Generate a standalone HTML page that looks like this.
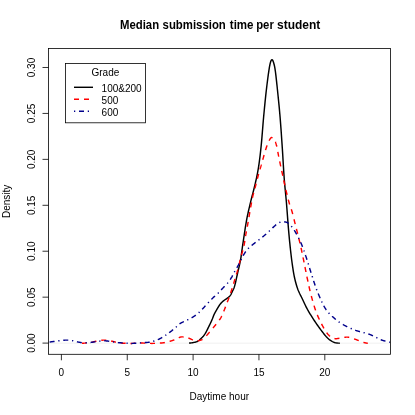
<!DOCTYPE html>
<html><head><meta charset="utf-8"><title>Median submission time per student</title>
<style>
html,body{margin:0;padding:0;background:#fff;}
body{width:415px;height:415px;overflow:hidden;font-family:"Liberation Sans",sans-serif;}
svg{display:block;will-change:transform;}
</style></head><body>
<svg width="415" height="415" viewBox="0 0 415 415">
<rect x="0" y="0" width="415" height="415" fill="#fff"/>
<g font-family="Liberation Sans, sans-serif" fill="#000">
<text x="120.00" y="28.8" font-size="12" font-weight="bold" textLength="39.10" lengthAdjust="spacingAndGlyphs">Median</text>
<text x="162.60" y="28.8" font-size="12" font-weight="bold" textLength="63.20" lengthAdjust="spacingAndGlyphs">submission</text>
<text x="229.80" y="28.8" font-size="12" font-weight="bold" textLength="23.75" lengthAdjust="spacingAndGlyphs">time</text>
<text x="256.20" y="28.8" font-size="12" font-weight="bold" textLength="17.60" lengthAdjust="spacingAndGlyphs">per</text>
<text x="277.00" y="28.8" font-size="12" font-weight="bold" textLength="43.30" lengthAdjust="spacingAndGlyphs">student</text>
<text x="219.3" y="399.8" font-size="10" text-anchor="middle">Daytime hour</text>
<text transform="translate(10.2 201.3) rotate(-90)" font-size="10" text-anchor="middle">Density</text>
<text x="61.40" y="376" font-size="10" text-anchor="middle">0</text>
<text x="127.25" y="376" font-size="10" text-anchor="middle">5</text>
<text x="193.10" y="376" font-size="10" text-anchor="middle">10</text>
<text x="258.95" y="376" font-size="10" text-anchor="middle">15</text>
<text x="324.80" y="376" font-size="10" text-anchor="middle">20</text>
<text transform="translate(34.7 343.10) rotate(-90)" font-size="10" text-anchor="middle">0.00</text>
<text transform="translate(34.7 297.17) rotate(-90)" font-size="10" text-anchor="middle">0.05</text>
<text transform="translate(34.7 251.23) rotate(-90)" font-size="10" text-anchor="middle">0.10</text>
<text transform="translate(34.7 205.30) rotate(-90)" font-size="10" text-anchor="middle">0.15</text>
<text transform="translate(34.7 159.36) rotate(-90)" font-size="10" text-anchor="middle">0.20</text>
<text transform="translate(34.7 113.43) rotate(-90)" font-size="10" text-anchor="middle">0.25</text>
<text transform="translate(34.7 67.49) rotate(-90)" font-size="10" text-anchor="middle">0.30</text>
</g>
<line x1="48.50" y1="343.20" x2="390.50" y2="343.20" stroke="#bebebe" stroke-width="0.22"/>
<clipPath id="c"><rect x="48.50" y="48.50" width="342.00" height="305.80"/></clipPath>
<g clip-path="url(#c)" fill="none" stroke-linecap="butt" stroke-linejoin="round" stroke-width="1.45">
<path d="M189.00 343.10L189.31 343.07L189.72 343.02L190.20 342.98L190.74 342.92L191.32 342.85L191.90 342.78L192.47 342.69L193.00 342.60L193.51 342.50L194.03 342.41L194.55 342.31L195.07 342.19L195.59 342.06L196.10 341.91L196.61 341.72L197.10 341.50L197.58 341.24L198.05 340.96L198.50 340.65L198.96 340.31L199.41 339.95L199.86 339.56L200.33 339.14L200.80 338.70L201.29 338.24L201.78 337.76L202.29 337.26L202.79 336.72L203.30 336.16L203.81 335.55L204.31 334.90L204.80 334.20L205.29 333.43L205.77 332.59L206.26 331.70L206.74 330.77L207.21 329.82L207.68 328.86L208.15 327.92L208.60 327.00L209.05 326.09L209.51 325.16L209.96 324.22L210.41 323.28L210.84 322.36L211.25 321.47L211.64 320.61L212.00 319.80L212.32 319.05L212.60 318.34L212.85 317.67L213.08 317.03L213.31 316.40L213.55 315.78L213.81 315.15L214.10 314.50L214.42 313.83L214.77 313.16L215.12 312.49L215.49 311.82L215.87 311.15L216.25 310.49L216.63 309.84L217.00 309.20L217.37 308.57L217.74 307.93L218.12 307.29L218.49 306.67L218.87 306.06L219.25 305.48L219.62 304.92L220.00 304.40L220.37 303.92L220.74 303.47L221.11 303.05L221.47 302.65L221.85 302.27L222.22 301.91L222.61 301.55L223.00 301.20L223.40 300.87L223.82 300.56L224.24 300.27L224.66 299.99L225.09 299.71L225.53 299.42L225.96 299.12L226.40 298.80L226.85 298.46L227.32 298.12L227.79 297.78L228.27 297.42L228.74 297.05L229.19 296.66L229.61 296.24L230.00 295.80L230.35 295.33L230.67 294.84L230.96 294.33L231.23 293.80L231.49 293.25L231.76 292.68L232.02 292.10L232.30 291.50L232.58 290.93L232.86 290.39L233.14 289.87L233.41 289.31L233.69 288.69L233.98 287.98L234.28 287.12L234.60 286.10L234.93 284.88L235.28 283.50L235.64 281.98L236.01 280.36L236.38 278.67L236.75 276.96L237.13 275.26L237.50 273.60L237.88 271.95L238.27 270.25L238.67 268.53L239.07 266.79L239.47 265.07L239.84 263.36L240.19 261.70L240.50 260.10L240.77 258.57L241.01 257.11L241.22 255.69L241.41 254.30L241.60 252.91L241.78 251.49L241.98 250.03L242.20 248.50L242.43 246.92L242.67 245.31L242.91 243.66L243.15 241.99L243.40 240.29L243.66 238.56L243.92 236.80L244.20 235.00L244.48 233.17L244.76 231.29L245.05 229.39L245.34 227.45L245.65 225.49L245.98 223.51L246.33 221.51L246.70 219.50L247.10 217.47L247.52 215.43L247.97 213.36L248.43 211.27L248.91 209.17L249.40 207.05L249.90 204.93L250.40 202.80L250.92 200.65L251.47 198.49L252.04 196.30L252.61 194.11L253.19 191.91L253.75 189.72L254.29 187.55L254.80 185.40L255.29 183.31L255.75 181.28L256.21 179.29L256.65 177.29L257.08 175.26L257.50 173.16L257.90 170.95L258.30 168.60L258.69 166.14L259.06 163.61L259.41 161.01L259.76 158.33L260.10 155.54L260.44 152.65L260.77 149.64L261.10 146.50L261.43 143.15L261.75 139.58L262.06 135.85L262.38 132.02L262.68 128.19L262.99 124.41L263.29 120.75L263.60 117.30L263.90 114.01L264.21 110.80L264.51 107.68L264.81 104.63L265.10 101.66L265.40 98.77L265.70 95.95L266.00 93.20L266.30 90.50L266.61 87.84L266.92 85.24L267.23 82.72L267.54 80.31L267.84 78.02L268.12 75.88L268.40 73.90L268.66 72.08L268.91 70.41L269.16 68.86L269.39 67.45L269.62 66.16L269.85 64.99L270.08 63.94L270.30 63.00L270.52 62.18L270.74 61.49L270.95 60.92L271.16 60.46L271.37 60.12L271.58 59.88L271.79 59.74L272.00 59.70L272.21 59.76L272.43 59.94L272.64 60.23L272.85 60.61L273.06 61.09L273.27 61.65L273.49 62.29L273.70 63.00L273.91 63.72L274.11 64.45L274.31 65.23L274.51 66.10L274.71 67.12L274.93 68.33L275.15 69.77L275.40 71.50L275.67 73.56L275.95 75.94L276.25 78.57L276.56 81.38L276.88 84.31L277.19 87.30L277.50 90.28L277.80 93.20L278.09 96.05L278.38 98.90L278.67 101.77L278.96 104.69L279.25 107.67L279.53 110.75L279.82 113.96L280.10 117.30L280.38 120.83L280.66 124.52L280.95 128.35L281.23 132.27L281.50 136.23L281.77 140.21L282.04 144.14L282.30 148.00L282.55 151.84L282.79 155.73L283.02 159.63L283.25 163.51L283.48 167.34L283.71 171.09L283.95 174.72L284.20 178.20L284.46 181.49L284.73 184.62L285.01 187.61L285.29 190.53L285.58 193.41L285.86 196.31L286.13 199.25L286.40 202.30L286.66 205.49L286.92 208.79L287.18 212.15L287.43 215.53L287.68 218.85L287.93 222.07L288.17 225.14L288.40 228.00L288.62 230.63L288.84 233.09L289.05 235.40L289.25 237.60L289.45 239.73L289.66 241.84L289.88 243.95L290.10 246.10L290.33 248.29L290.57 250.47L290.81 252.63L291.06 254.77L291.31 256.89L291.56 258.97L291.83 261.01L292.10 263.00L292.37 264.94L292.65 266.85L292.93 268.72L293.21 270.56L293.51 272.35L293.82 274.11L294.15 275.82L294.50 277.50L294.87 279.14L295.25 280.73L295.65 282.28L296.06 283.80L296.49 285.28L296.94 286.72L297.41 288.13L297.90 289.50L298.41 290.82L298.96 292.07L299.52 293.28L300.10 294.46L300.69 295.62L301.29 296.79L301.90 297.97L302.50 299.20L303.09 300.45L303.67 301.70L304.25 302.97L304.84 304.24L305.45 305.52L306.09 306.83L306.77 308.15L307.50 309.50L308.28 310.88L309.11 312.31L309.98 313.76L310.88 315.22L311.80 316.69L312.73 318.15L313.67 319.59L314.60 321.00L315.54 322.41L316.52 323.83L317.51 325.26L318.50 326.67L319.49 328.04L320.46 329.37L321.40 330.63L322.30 331.80L323.16 332.90L323.98 333.94L324.78 334.93L325.56 335.86L326.32 336.73L327.08 337.54L327.84 338.30L328.60 339.00L329.37 339.63L330.14 340.20L330.91 340.71L331.67 341.16L332.42 341.56L333.16 341.91L333.89 342.22L334.60 342.50L335.32 342.73L336.08 342.89L336.84 343.00L337.58 343.07L338.27 343.11L338.88 343.14L339.40 343.17L339.80 343.20" stroke="#000"/>
<path d="M81.90 343.30L82.08 343.28L82.29 343.27L82.53 343.25L82.79 343.23L83.08 343.22L83.38 343.20L83.70 343.17L84.04 343.15L84.39 343.13L84.76 343.10L85.13 343.08L85.51 343.05L85.90 343.02L86.29 342.99L86.69 342.96L86.71 342.96M91.56 342.31L91.83 342.25L92.12 342.18L92.41 342.11L92.71 342.04L92.99 341.96L93.28 341.89L93.57 341.81L93.85 341.74L94.14 341.66L94.42 341.59L94.71 341.51L94.99 341.44L95.28 341.37L95.56 341.30L95.85 341.24L96.13 341.17L96.42 341.11M101.30 340.28L101.38 340.27L101.67 340.24L101.96 340.21L102.25 340.18L102.54 340.16L102.83 340.14L103.12 340.12L103.42 340.11L103.71 340.10L104.00 340.10L104.29 340.10L104.58 340.11L104.88 340.12L105.17 340.14L105.46 340.16L105.75 340.18L106.04 340.21L106.29 340.23M111.07 341.01L111.29 341.06L111.59 341.12L111.89 341.18L112.19 341.25L112.49 341.32L112.80 341.40L113.10 341.47L113.41 341.55L113.71 341.63L114.02 341.71L114.32 341.79L114.62 341.88L114.93 341.96L115.23 342.04L115.52 342.12L115.81 342.19L115.92 342.22M120.64 343.07L120.73 343.07L120.92 343.09L121.11 343.10L121.31 343.11L121.52 343.12L121.73 343.14L121.96 343.15L122.20 343.16L122.45 343.17L122.72 343.19L123.00 343.20L123.30 343.21L123.61 343.23L123.94 343.24L124.28 343.26L124.63 343.27L124.99 343.29L125.36 343.30L125.63 343.31M130.45 343.40L130.51 343.40L130.90 343.41L131.27 343.41L131.64 343.40L132.00 343.40L132.35 343.39L132.69 343.39L133.02 343.37L133.35 343.36L133.67 343.34L133.99 343.32L134.30 343.30L134.61 343.28L134.92 343.26L135.22 343.24L135.45 343.22M140.25 343.00L140.42 343.00L140.85 343.01L141.29 343.02L141.75 343.03L142.22 343.04L142.69 343.06L143.18 343.08L143.67 343.10L144.17 343.13L144.68 343.15L145.19 343.18L145.25 343.18M150.01 343.38L150.22 343.38L150.69 343.39L151.15 343.40L151.60 343.40L152.04 343.40L152.49 343.40L152.93 343.39L153.37 343.38L153.81 343.37L154.25 343.36L154.69 343.35L155.01 343.34M159.89 343.09L159.90 343.09L160.24 343.07L160.57 343.05L160.89 343.02L161.20 343.00L161.49 342.98L161.76 342.96L162.02 342.93L162.27 342.91L162.50 342.89L162.71 342.87L162.92 342.84L163.12 342.82L163.31 342.80L163.49 342.78L163.67 342.75L163.84 342.73L164.01 342.70L164.17 342.67L164.34 342.64L164.50 342.61L164.67 342.58L164.84 342.55L164.86 342.54M169.61 341.36L169.70 341.33L169.95 341.26L170.20 341.19L170.44 341.11L170.68 341.04L170.91 340.97L171.14 340.90L171.37 340.83L171.59 340.77L171.80 340.70L172.00 340.64L172.20 340.57L172.39 340.51L172.58 340.45L172.76 340.39L172.93 340.34L173.11 340.28L173.27 340.22L173.44 340.17L173.60 340.11L173.76 340.05L173.93 339.99L174.09 339.94L174.25 339.88L174.37 339.83M178.76 337.77L178.76 337.77L178.99 337.66L179.22 337.55L179.45 337.44L179.69 337.35L179.92 337.25L180.16 337.17L180.41 337.10L180.65 337.03L180.90 336.98L181.15 336.93L181.40 336.90L181.66 336.88L181.92 336.87L182.18 336.86L182.45 336.87L182.73 336.88L183.00 336.90L183.28 336.92L183.57 336.96L183.60 336.96M188.31 338.03L188.48 338.08L188.77 338.18L189.05 338.28L189.34 338.39L189.63 338.51L189.92 338.63L190.22 338.76L190.51 338.89L190.80 339.03L191.09 339.16L191.38 339.30L191.67 339.44L191.96 339.57L192.24 339.71L192.52 339.84L192.80 339.96L192.90 340.01M197.74 340.84L197.88 340.83L198.08 340.80L198.27 340.77L198.46 340.73L198.65 340.69L198.84 340.65L199.03 340.61L199.22 340.56L199.41 340.51L199.61 340.46L199.80 340.40L199.99 340.35L200.17 340.29L200.35 340.24L200.52 340.19L200.69 340.15L200.86 340.10L201.02 340.04L201.18 339.99L201.34 339.93L201.50 339.87L201.66 339.80L201.83 339.73L201.99 339.64L202.16 339.55L202.33 339.45L202.49 339.36M206.29 335.85L206.52 335.60L206.85 335.24L207.17 334.87L207.51 334.49L207.84 334.10L208.18 333.71L208.52 333.31L208.87 332.91L209.21 332.50L209.55 332.09L209.57 332.08M212.96 328.04L213.23 327.72L213.58 327.31L213.93 326.90L214.28 326.48L214.63 326.06L214.98 325.64L215.33 325.22L215.67 324.80L216.02 324.37L216.16 324.20M219.27 320.17L219.36 320.05L219.60 319.70L219.82 319.37L220.03 319.05L220.23 318.74L220.42 318.44L220.59 318.15L220.75 317.86L220.91 317.59L221.05 317.32L221.19 317.05L221.32 316.79L221.45 316.54L221.57 316.28L221.69 316.03L221.77 315.85M223.70 311.39L223.83 311.08L223.96 310.75L224.10 310.42L224.24 310.08L224.37 309.75L224.51 309.41L224.64 309.06L224.78 308.71L224.92 308.36L225.06 308.00L225.20 307.64L225.34 307.27L225.49 306.89L225.54 306.74M227.27 302.21L227.42 301.82L227.60 301.35L227.78 300.87L227.96 300.38L228.15 299.89L228.33 299.40L228.52 298.90L228.70 298.40L228.89 297.89L229.02 297.53M230.62 293.04L230.70 292.80L230.87 292.29L231.04 291.79L231.21 291.28L231.38 290.76L231.54 290.25L231.71 289.73L231.87 289.21L232.04 288.69L232.17 288.28M233.57 283.71L233.65 283.44L233.81 282.92L233.97 282.39L234.12 281.87L234.28 281.34L234.44 280.82L234.60 280.30L234.76 279.78L234.92 279.25L235.02 278.93M236.39 274.42L236.53 273.94L236.69 273.41L236.85 272.89L237.00 272.36L237.16 271.84L237.31 271.32L237.46 270.81L237.60 270.29L237.75 269.78L237.80 269.62M239.06 264.80L239.13 264.53L239.23 264.08L239.34 263.63L239.44 263.19L239.54 262.75L239.64 262.31L239.74 261.87L239.84 261.43L239.94 260.99L240.04 260.55L240.15 260.11L240.19 259.93M241.39 255.17L241.52 254.72L241.65 254.26L241.78 253.80L241.91 253.34L242.05 252.89L242.18 252.43L242.32 251.97L242.45 251.51L242.58 251.05L242.71 250.59L242.78 250.36M243.95 245.75L244.00 245.54L244.09 245.09L244.18 244.63L244.27 244.17L244.35 243.71L244.43 243.25L244.51 242.79L244.59 242.33L244.66 241.87L244.73 241.41L244.80 240.95L244.82 240.83M245.51 236.23L245.55 235.98L245.62 235.54L245.70 235.10L245.78 234.66L245.86 234.23L245.93 233.80L246.01 233.37L246.09 232.95L246.17 232.53L246.25 232.10L246.33 231.69L246.40 231.31M247.29 226.70L247.29 226.69L247.37 226.27L247.44 225.85L247.52 225.43L247.60 225.00L247.68 224.57L247.75 224.14L247.83 223.71L247.91 223.27L247.98 222.83L248.06 222.39L248.14 221.95L248.17 221.78M248.98 217.03L249.04 216.69L249.11 216.27L249.19 215.84L249.26 215.43L249.33 215.01L249.40 214.60L249.47 214.19L249.54 213.79L249.61 213.39L249.68 213.00L249.74 212.61L249.81 212.22L249.83 212.10M250.64 207.38L250.66 207.30L250.72 206.93L250.79 206.55L250.86 206.17L250.93 205.78L251.00 205.40L251.07 205.01L251.14 204.63L251.21 204.24L251.28 203.85L251.35 203.45L251.42 203.06L251.50 202.67L251.53 202.46M252.44 197.75L252.47 197.60L252.55 197.22L252.63 196.84L252.72 196.47L252.80 196.10L252.89 195.73L252.98 195.36L253.07 195.00L253.16 194.63L253.26 194.27L253.35 193.91L253.45 193.55L253.55 193.19L253.63 192.89M254.91 188.41L254.92 188.36L255.01 188.03L255.10 187.70L255.18 187.38L255.27 187.06L255.35 186.75L255.42 186.45L255.50 186.14L255.57 185.85L255.65 185.55L255.72 185.26L255.79 184.97L255.86 184.68L255.93 184.39L256.00 184.11L256.07 183.82L256.13 183.56M257.37 178.72L257.45 178.42L257.55 178.06L257.64 177.69L257.74 177.32L257.84 176.95L257.94 176.58L258.04 176.21L258.14 175.84L258.24 175.47L258.34 175.11L258.44 174.74L258.54 174.38L258.64 174.02L258.68 173.90M259.96 169.33L260.03 169.08L260.11 168.81L260.19 168.54L260.27 168.27L260.34 168.00L260.42 167.74L260.50 167.48L260.57 167.22L260.65 166.96L260.72 166.70L260.80 166.44L260.87 166.18L260.95 165.92L261.02 165.66L261.10 165.40L261.17 165.14L261.25 164.89L261.32 164.65L261.35 164.53M262.72 159.77L262.80 159.50L262.89 159.18L262.99 158.85L263.08 158.51L263.18 158.16L263.28 157.80L263.39 157.44L263.49 157.06L263.60 156.68L263.71 156.29L263.82 155.90L263.93 155.50L264.04 155.11L264.09 154.96M265.51 150.15L265.62 149.81L265.73 149.46L265.84 149.12L265.95 148.77L266.05 148.43L266.16 148.08L266.27 147.74L266.38 147.41L266.49 147.07L266.60 146.74L266.71 146.41L266.82 146.09L266.93 145.77L267.04 145.45L267.06 145.39M269.11 140.55L269.16 140.47L269.26 140.28L269.37 140.10L269.47 139.92L269.57 139.75L269.67 139.59L269.76 139.43L269.86 139.28L269.96 139.13L270.05 138.99L270.14 138.86L270.23 138.73L270.32 138.61L270.40 138.50L270.48 138.39L270.56 138.29L270.63 138.20L270.70 138.11L270.77 138.03L270.83 137.96L270.90 137.89L270.96 137.83L271.01 137.78L271.07 137.73L271.13 137.69L271.19 137.65L271.24 137.62L271.30 137.59L271.36 137.57L271.42 137.56L271.48 137.54L271.55 137.54L271.62 137.54L271.68 137.54L271.76 137.55L271.83 137.56L271.91 137.58L272.00 137.60L272.09 137.62L272.18 137.65L272.28 137.68L272.38 137.72L272.49 137.76L272.54 137.78M275.50 141.82L275.53 141.90L275.61 142.15L275.68 142.41L275.76 142.67L275.83 142.93L275.91 143.20L275.98 143.48L276.06 143.76L276.13 144.04L276.20 144.33L276.28 144.62L276.35 144.91L276.43 145.20L276.50 145.50L276.57 145.80L276.65 146.11L276.72 146.43L276.77 146.65M277.79 151.79L277.85 152.11L277.92 152.47L277.99 152.83L278.06 153.19L278.13 153.55L278.20 153.90L278.27 154.25L278.34 154.59L278.41 154.94L278.48 155.28L278.55 155.62L278.61 155.96L278.68 156.30L278.75 156.63L278.76 156.69M279.73 161.48L279.74 161.54L279.82 161.92L279.90 162.30L279.98 162.69L280.06 163.07L280.14 163.45L280.22 163.84L280.31 164.22L280.39 164.60L280.47 164.99L280.56 165.38L280.64 165.77L280.73 166.16L280.77 166.37M281.75 170.88L281.77 170.97L281.88 171.47L281.99 171.98L282.10 172.50L282.22 173.04L282.34 173.60L282.46 174.17L282.58 174.76L282.71 175.37L282.80 175.77M283.76 180.34L283.80 180.55L283.95 181.22L284.09 181.90L284.24 182.57L284.38 183.24L284.53 183.91L284.67 184.58L284.82 185.23M285.90 189.95L285.99 190.32L286.14 190.96L286.29 191.61L286.45 192.25L286.60 192.89L286.75 193.53L286.91 194.17L287.06 194.80L287.07 194.81M288.29 199.65L288.43 200.20L288.58 200.75L288.72 201.28L288.86 201.80L289.00 202.30L289.14 202.78L289.27 203.24L289.40 203.68L289.53 204.10L289.65 204.46M291.31 209.27L291.37 209.43L291.49 209.81L291.61 210.20L291.74 210.62L291.87 211.05L292.00 211.50L292.13 211.96L292.26 212.43L292.39 212.90L292.52 213.38L292.64 213.85L292.70 214.07M293.99 219.21L294.08 219.57L294.22 220.14L294.36 220.72L294.51 221.32L294.66 221.93L294.81 222.55L294.97 223.19L295.13 223.84L295.19 224.07M296.42 228.92L296.42 228.92L296.63 229.72L296.83 230.53L297.04 231.35L297.25 232.18L297.47 233.01L297.66 233.76M298.84 238.47L298.95 238.92L299.15 239.74L299.35 240.56L299.55 241.37L299.74 242.16L299.92 242.94L300.01 243.33M301.04 247.84L301.08 248.06L301.24 248.77L301.39 249.47L301.54 250.16L301.69 250.85L301.83 251.54L301.97 252.23L302.08 252.73M303.05 257.43L303.11 257.75L303.26 258.46L303.40 259.16L303.55 259.88L303.70 260.60L303.85 261.33L304.00 262.06L304.05 262.33M304.98 266.99L305.05 267.33L305.20 268.09L305.35 268.85L305.50 269.61L305.65 270.37L305.80 271.13L305.95 271.89L305.95 271.90M306.93 276.72L307.00 277.08L307.15 277.79L307.30 278.50L307.45 279.20L307.60 279.89L307.74 280.58L307.88 281.25L307.96 281.61M308.95 286.25L309.01 286.51L309.16 287.16L309.30 287.81L309.45 288.45L309.60 289.10L309.75 289.75L309.90 290.40L310.06 291.06L310.07 291.12M311.33 296.01L311.45 296.49L311.64 297.20L311.83 297.92L312.03 298.64L312.23 299.36L312.43 300.09L312.63 300.82L312.63 300.84M314.03 305.63L314.11 305.90L314.33 306.60L314.55 307.30L314.77 308.00L314.99 308.68L315.22 309.35L315.44 310.01L315.57 310.38M317.32 314.94L317.33 314.96L317.58 315.55L317.83 316.14L318.08 316.71L318.33 317.28L318.58 317.85L318.84 318.41L319.09 318.96L319.35 319.50L319.35 319.51M321.54 323.91L321.65 324.12L321.90 324.60L322.15 325.08L322.40 325.55L322.65 326.01L322.90 326.48L323.15 326.93L323.40 327.39L323.65 327.83L323.90 328.27L323.92 328.31M326.67 332.64L326.91 332.96L327.15 333.28L327.40 333.60L327.65 333.91L327.90 334.20L328.15 334.48L328.39 334.75L328.64 335.01L328.89 335.26L329.13 335.50L329.38 335.73L329.62 335.95L329.86 336.16L330.05 336.31M334.44 338.57L334.56 338.59L334.81 338.63L335.06 338.66L335.31 338.68L335.57 338.69L335.82 338.69L336.08 338.69L336.33 338.67L336.59 338.66L336.84 338.63L337.10 338.60L337.36 338.57L337.62 338.53L337.88 338.50L338.14 338.46L338.40 338.42L338.66 338.38L338.93 338.34L339.19 338.30L339.41 338.27M344.30 337.40L344.34 337.39L344.63 337.34L344.92 337.29L345.20 337.24L345.48 337.20L345.75 337.17L346.02 337.14L346.29 337.12L346.55 337.10L346.80 337.10L347.05 337.10L347.29 337.11L347.52 337.13L347.75 337.15L347.98 337.17L348.20 337.20L348.42 337.23L348.63 337.27L348.85 337.31L349.05 337.36L349.26 337.40M354.06 338.86L354.16 338.89L354.41 338.98L354.66 339.07L354.91 339.16L355.15 339.25L355.40 339.34L355.64 339.43L355.89 339.51L356.12 339.60L356.36 339.69L356.60 339.78L356.83 339.87L357.05 339.95L357.27 340.04L357.49 340.12L357.70 340.20L357.90 340.28L358.10 340.36L358.29 340.44L358.48 340.52L358.66 340.59L358.74 340.63M363.43 342.40L363.48 342.41L363.76 342.48L364.04 342.55L364.32 342.62L364.60 342.68L364.89 342.75L365.17 342.81L365.45 342.88L365.72 342.94L365.98 343.00L366.24 343.05L366.49 343.11L366.72 343.16L366.94 343.21L367.15 343.25L367.34 343.29L367.51 343.33L367.67 343.37L367.80 343.40" stroke="#ff0000"/>
<path d="M49.63 342.04L49.68 342.04L49.94 342.00L50.20 341.96L50.48 341.92L50.77 341.88L51.07 341.84L51.38 341.80L51.68 341.76L52.00 341.71L52.31 341.67L52.63 341.63L52.94 341.58L53.26 341.54L53.57 341.50L53.87 341.45L54.17 341.41L54.46 341.37L54.58 341.36M58.29 340.83L58.30 340.83L58.55 340.80L58.79 340.77L59.04 340.73L59.29 340.70L59.53 340.67L59.53 340.67M63.28 340.27L63.42 340.26L63.66 340.24L63.89 340.22L64.13 340.20L64.37 340.18L64.60 340.17L64.84 340.15L65.08 340.14L65.31 340.13L65.54 340.12L65.78 340.11L66.01 340.10L66.24 340.10L66.47 340.10L66.70 340.10L66.93 340.10L67.15 340.11L67.38 340.11L67.60 340.12L67.82 340.13L68.04 340.14L68.25 340.15L68.27 340.15M72.01 340.60L72.24 340.64L72.48 340.69L72.72 340.74L72.97 340.79L73.21 340.84L73.24 340.85M76.90 341.76L77.02 341.79L77.27 341.85L77.52 341.90L77.76 341.95L78.00 342.00L78.24 342.05L78.47 342.09L78.70 342.14L78.93 342.18L79.16 342.22L79.39 342.27L79.61 342.31L79.83 342.35L80.06 342.39L80.28 342.43L80.50 342.47L80.72 342.51L80.94 342.54L81.16 342.58L81.39 342.61L81.61 342.64L81.81 342.66M85.57 342.81L85.57 342.81L85.84 342.80L86.11 342.79L86.38 342.78L86.66 342.76L86.82 342.75M90.56 342.44L90.57 342.44L90.85 342.41L91.14 342.37L91.43 342.33L91.71 342.29L92.01 342.25L92.30 342.21L92.59 342.16L92.88 342.12L93.17 342.07L93.47 342.02L93.76 341.98L94.06 341.93L94.35 341.88L94.65 341.84L94.94 341.79L95.24 341.75L95.50 341.71M99.22 341.21L99.33 341.19L99.62 341.15L99.92 341.12L100.21 341.08L100.46 341.05M104.24 340.80L104.29 340.80L104.58 340.81L104.88 340.82L105.17 340.83L105.46 340.85L105.75 340.87L106.04 340.89L106.33 340.91L106.62 340.94L106.92 340.97L107.21 341.00L107.50 341.04L107.79 341.07L108.08 341.11L108.38 341.15L108.67 341.19L108.96 341.22L109.22 341.26M112.97 341.80L113.06 341.81L113.35 341.86L113.65 341.91L113.94 341.97L114.21 342.01M117.82 342.58L118.00 342.60L118.28 342.63L118.56 342.66L118.83 342.68L119.10 342.71L119.37 342.73L119.64 342.75L119.90 342.77L120.17 342.79L120.43 342.80L120.69 342.82L120.96 342.83L121.22 342.84L121.48 342.86L121.75 342.87L122.01 342.88L122.28 342.89L122.55 342.90L122.81 342.92M126.46 343.13L126.60 343.14L126.91 343.17L127.22 343.19L127.53 343.21L127.71 343.23M131.30 343.40L131.35 343.40L131.68 343.40L132.00 343.40L132.32 343.40L132.64 343.39L132.97 343.38L133.29 343.37L133.61 343.36L133.93 343.34L134.25 343.33L134.57 343.31L134.89 343.29L135.22 343.27L135.54 343.24L135.87 343.22L136.20 343.19L136.30 343.19M139.88 342.91L140.00 342.90L140.37 342.87L140.76 342.85L141.13 342.83M144.72 342.60L145.06 342.58L145.49 342.55L145.92 342.52L146.35 342.49L146.76 342.46L147.17 342.43L147.56 342.40L147.94 342.37L148.31 342.34L148.66 342.30L148.99 342.27L149.31 342.24L149.60 342.20L149.70 342.19M153.18 341.31L153.31 341.26L153.50 341.20L153.71 341.13L153.92 341.06L154.13 340.99L154.35 340.92L154.37 340.91M157.78 339.68L157.78 339.68L158.04 339.57L158.29 339.46L158.55 339.35L158.80 339.24L159.05 339.12L159.30 339.00L159.55 338.88L159.80 338.75L160.05 338.62L160.31 338.48L160.56 338.35L160.82 338.21L161.08 338.06L161.34 337.91L161.60 337.77L161.86 337.61L162.12 337.46L162.22 337.40M165.29 335.47L165.40 335.40L165.64 335.24L165.87 335.09L166.11 334.93L166.33 334.78M169.23 332.71L169.24 332.70L169.46 332.53L169.68 332.36L169.90 332.19L170.12 332.02L170.35 331.85L170.57 331.68L170.80 331.50L171.03 331.32L171.26 331.14L171.50 330.95L171.73 330.76L171.97 330.57L172.21 330.37L172.45 330.17L172.69 329.97L172.93 329.77L173.14 329.60M175.85 327.29L175.90 327.24L176.11 327.07L176.30 326.90L176.49 326.74L176.66 326.58L176.79 326.46M179.48 323.96L179.62 323.86L179.80 323.73L180.00 323.60L180.21 323.47L180.42 323.34L180.64 323.21L180.87 323.08L181.10 322.96L181.34 322.83L181.58 322.70L181.83 322.58L182.08 322.45L182.34 322.33L182.60 322.20L182.86 322.08L183.12 321.96L183.38 321.83L183.65 321.71L183.89 321.60M187.21 320.02L187.25 320.00L187.50 319.88L187.75 319.76L188.00 319.65L188.25 319.53L188.34 319.49M191.60 317.84L191.75 317.75L192.00 317.60L192.25 317.45L192.51 317.29L192.76 317.14L193.01 316.98L193.27 316.82L193.52 316.66L193.77 316.50L194.03 316.33L194.28 316.16L194.54 315.99L194.79 315.82L195.05 315.64L195.31 315.47L195.56 315.29L195.79 315.12M198.64 312.82L198.86 312.62L199.12 312.37L199.38 312.13L199.55 311.97M202.11 309.32L202.21 309.22L202.46 308.95L202.70 308.69L202.94 308.43L203.18 308.17L203.42 307.92L203.65 307.68L203.88 307.43L204.10 307.20L204.32 306.97L204.53 306.74L204.74 306.52L204.95 306.30L205.15 306.08L205.35 305.87L205.52 305.67M208.00 302.95L208.13 302.81L208.32 302.61L208.51 302.40L208.70 302.20L208.85 302.04M211.40 299.38L211.42 299.36L211.62 299.16L211.81 298.96L212.01 298.76L212.21 298.57L212.41 298.37L212.60 298.17L212.80 297.98L213.00 297.79L213.20 297.59L213.40 297.40L213.60 297.21L213.80 297.02L214.00 296.84L214.21 296.65L214.41 296.47L214.61 296.29L214.82 296.11L215.02 295.93M217.78 293.50L217.89 293.39L218.10 293.20L218.30 293.00L218.50 292.80L218.67 292.62M221.18 289.91L221.30 289.78L221.50 289.56L221.70 289.33L221.90 289.11L222.10 288.89L222.30 288.67L222.50 288.45L222.70 288.23L222.90 288.02L223.10 287.80L223.30 287.59L223.50 287.37L223.71 287.16L223.91 286.95L224.12 286.73L224.33 286.52L224.54 286.31L224.59 286.25M227.14 283.58L227.17 283.55L227.36 283.34L227.54 283.13L227.72 282.91L227.90 282.70L227.96 282.63M230.10 279.71L230.25 279.49L230.39 279.27L230.53 279.06L230.67 278.84L230.81 278.62L230.95 278.40L231.09 278.17L231.22 277.95L231.36 277.73L231.50 277.50L231.64 277.27L231.77 277.04L231.90 276.82L232.03 276.59L232.15 276.36L232.28 276.12L232.40 275.89L232.52 275.66L232.64 275.43L232.65 275.41M234.30 272.17L234.36 272.05L234.50 271.80L234.64 271.55L234.78 271.29L234.90 271.08M236.75 267.87L236.79 267.81L236.94 267.54L237.10 267.28L237.25 267.01L237.40 266.75L237.55 266.49L237.69 266.24L237.83 265.99L237.97 265.74L238.10 265.50L238.23 265.26L238.36 265.03L238.48 264.80L238.60 264.57L238.72 264.34L238.84 264.12L238.96 263.89L239.07 263.67L239.17 263.49M240.85 260.20L240.91 260.09L241.02 259.88L241.12 259.67L241.23 259.45L241.34 259.24L241.41 259.08M243.09 255.79L243.10 255.77L243.20 255.58L243.30 255.40L243.40 255.22L243.50 255.04L243.60 254.87L243.71 254.69L243.81 254.52L243.91 254.35L244.01 254.19L244.11 254.02L244.21 253.86L244.31 253.70L244.41 253.54L244.51 253.38L244.61 253.23L244.71 253.07L244.80 252.92L244.90 252.77L245.00 252.62L245.10 252.47L245.20 252.32L245.30 252.17L245.40 252.03L245.50 251.89L245.60 251.74L245.70 251.60L245.74 251.55M248.04 248.66L248.10 248.60L248.21 248.48L248.32 248.37L248.44 248.26L248.55 248.14L248.66 248.03L248.78 247.92L248.89 247.82L248.93 247.78M251.68 245.44L251.79 245.35L251.92 245.24L252.06 245.13L252.19 245.03L252.33 244.92L252.46 244.81L252.60 244.70L252.74 244.59L252.88 244.48L253.02 244.37L253.17 244.26L253.31 244.14L253.46 244.03L253.61 243.91L253.76 243.79L253.92 243.67L254.08 243.55L254.24 243.43L254.40 243.30L254.57 243.17L254.74 243.04L254.92 242.90L255.10 242.77L255.28 242.63L255.47 242.48L255.62 242.37M258.51 240.20L258.56 240.16L258.73 240.03L258.90 239.90L259.06 239.78L259.21 239.66L259.36 239.54L259.50 239.44M262.36 237.15L262.49 237.04L262.69 236.87L262.90 236.70L263.11 236.52L263.33 236.34L263.55 236.16L263.78 235.96L264.01 235.77L264.24 235.57L264.48 235.37L264.72 235.16L264.97 234.96L265.22 234.74L265.47 234.53L265.72 234.31L265.97 234.10L266.17 233.92M268.89 231.47L269.05 231.33L269.32 231.07L269.59 230.81L269.80 230.61M272.49 228.00L272.63 227.86L272.89 227.61L273.15 227.37L273.39 227.14L273.63 226.91L273.86 226.70L274.09 226.49L274.30 226.30L274.50 226.12L274.70 225.94L274.89 225.77L275.06 225.61L275.24 225.45L275.40 225.30L275.56 225.16L275.72 225.02L275.87 224.89L276.02 224.76L276.16 224.64L276.18 224.62M279.31 222.58L279.40 222.54L279.56 222.46L279.71 222.39L279.87 222.33L280.03 222.26L280.19 222.20L280.35 222.14L280.47 222.10M284.09 221.81L284.23 221.83L284.45 221.85L284.67 221.88L284.90 221.91L285.12 221.94L285.33 221.98L285.55 222.02L285.76 222.07L285.96 222.11L286.16 222.17L286.36 222.22L286.55 222.28L286.73 222.34L286.90 222.40L287.07 222.47L287.23 222.54L287.38 222.62L287.53 222.70L287.67 222.78L287.81 222.87L287.95 222.96L288.08 223.06L288.21 223.16L288.33 223.26L288.45 223.37L288.58 223.48L288.66 223.56M291.22 226.17L291.29 226.24L291.42 226.39L291.55 226.53L291.68 226.68L291.80 226.82L291.93 226.97L292.05 227.11M294.24 230.09L294.28 230.17L294.37 230.31L294.46 230.46L294.56 230.62L294.65 230.78L294.75 230.94L294.85 231.12L294.96 231.30L295.07 231.49L295.18 231.69L295.30 231.90L295.43 232.12L295.56 232.35L295.69 232.59L295.83 232.84L295.98 233.10L296.12 233.36L296.27 233.63L296.43 233.91L296.58 234.19L296.72 234.44M298.45 237.71L298.47 237.75L298.62 238.04L298.76 238.32L298.90 238.60L299.01 238.83M300.66 242.22L300.71 242.35L300.83 242.62L300.96 242.90L301.08 243.19L301.21 243.49L301.34 243.80L301.47 244.13L301.61 244.47L301.75 244.83L301.90 245.20L302.05 245.59L302.20 245.98L302.36 246.38L302.51 246.79L302.54 246.85M303.84 250.40L304.01 250.87L304.18 251.37L304.25 251.58M305.46 255.07L305.50 255.19L305.69 255.78L305.90 256.38L306.10 257.00L306.31 257.63L306.52 258.29L306.74 258.97L306.96 259.67L307.01 259.82M308.12 263.35L308.13 263.38L308.37 264.16L308.49 264.55M309.55 267.97L309.60 268.13L309.84 268.93L310.09 269.73L310.34 270.52L310.59 271.31L310.83 272.09L311.04 272.74M312.14 276.14L312.27 276.54L312.50 277.26L312.52 277.34M313.63 280.85L313.83 281.49L314.05 282.18L314.28 282.88L314.50 283.57L314.73 284.26L314.95 284.95L315.17 285.60M316.40 289.08L316.41 289.10L316.67 289.80L316.84 290.25M318.18 293.57L318.39 294.07L318.70 294.81L319.01 295.55L319.33 296.31L319.65 297.06L319.98 297.82L320.13 298.17M321.61 301.44L321.68 301.59L322.03 302.32L322.14 302.57M323.75 305.74L323.80 305.83L324.16 306.49L324.52 307.12L324.88 307.74L325.24 308.33L325.60 308.90L325.96 309.45L326.33 309.98L326.36 310.01M328.59 312.78L328.61 312.81L329.00 313.23L329.40 313.65L329.44 313.70M332.08 316.20L332.14 316.26L332.53 316.61L332.92 316.95L333.30 317.28L333.68 317.61L334.06 317.94L334.43 318.27L334.80 318.60L335.16 318.92L335.52 319.23L335.83 319.50M338.68 321.76L338.82 321.86L339.15 322.09L339.49 322.32L339.71 322.47M342.86 324.40L343.20 324.60L343.63 324.84L344.07 325.09L344.53 325.33L344.99 325.58L345.46 325.83L345.94 326.08L346.43 326.33L346.93 326.58L347.27 326.75M350.62 328.32L351.06 328.51L351.58 328.74L351.76 328.82M355.17 330.19L355.20 330.20L355.71 330.39L356.23 330.57L356.76 330.74L357.30 330.91L357.84 331.08L358.39 331.24L358.94 331.40L359.50 331.56L359.95 331.68M363.51 332.59L363.81 332.67L364.31 332.79L364.72 332.90M368.30 333.92L368.51 333.99L368.77 334.07L369.00 334.15L369.22 334.23L369.42 334.30L369.61 334.37L369.79 334.44L369.96 334.51L370.12 334.57L370.28 334.64L370.43 334.70L370.58 334.77L370.72 334.83L370.87 334.89L371.01 334.96L371.16 335.03L371.31 335.10L371.47 335.17L371.64 335.24L371.81 335.32L372.00 335.40L372.19 335.48L372.38 335.57L372.56 335.65L372.75 335.74L372.92 335.82M376.25 337.48L376.29 337.50L376.50 337.60L376.72 337.70L376.94 337.81L377.16 337.92L377.38 338.03L377.38 338.03M380.74 339.66L381.00 339.77L381.27 339.88L381.55 339.99L381.83 340.10L382.11 340.20L382.40 340.30L382.70 340.40L383.02 340.50L383.36 340.60L383.72 340.70L384.08 340.80L384.46 340.90L384.85 340.99L385.24 341.09L385.51 341.16M389.15 341.99L389.30 342.03L389.59 342.09L389.86 342.15L390.10 342.21L390.32 342.26L390.37 342.27" stroke="#00008b"/>
</g>
<g fill="none" stroke="#000" stroke-width="0.8" stroke-linecap="butt">
<rect x="48.50" y="48.50" width="342.00" height="305.80"/>
<line x1="61.40" y1="354.30" x2="61.40" y2="360.30"/>
<line x1="127.25" y1="354.30" x2="127.25" y2="360.30"/>
<line x1="193.10" y1="354.30" x2="193.10" y2="360.30"/>
<line x1="258.95" y1="354.30" x2="258.95" y2="360.30"/>
<line x1="324.80" y1="354.30" x2="324.80" y2="360.30"/>
<line x1="48.50" y1="343.10" x2="42.50" y2="343.10"/>
<line x1="48.50" y1="297.17" x2="42.50" y2="297.17"/>
<line x1="48.50" y1="251.23" x2="42.50" y2="251.23"/>
<line x1="48.50" y1="205.30" x2="42.50" y2="205.30"/>
<line x1="48.50" y1="159.36" x2="42.50" y2="159.36"/>
<line x1="48.50" y1="113.43" x2="42.50" y2="113.43"/>
<line x1="48.50" y1="67.49" x2="42.50" y2="67.49"/>
<rect x="65.4" y="63.5" width="80" height="59.3" fill="#fff"/>
</g>
<g fill="none" stroke-linecap="butt" stroke-width="1.45">
<line x1="74" y1="87.3" x2="93" y2="87.3" stroke="#000"/>
<line x1="74" y1="99.3" x2="93" y2="99.3" stroke="#ff0000" stroke-dasharray="5 5"/>
<line x1="74" y1="111.3" x2="92.7" y2="111.3" stroke="#00008b" stroke-dasharray="1.25 3.75 5 3.75"/>
</g>
<g font-family="Liberation Sans, sans-serif" fill="#000" font-size="10">
<text x="105.4" y="76.3" text-anchor="middle">Grade</text>
<text x="101.6" y="91.5">100&amp;200</text>
<text x="101.6" y="103.5">500</text>
<text x="101.6" y="115.5">600</text>
</g>
</svg>
</body></html>
